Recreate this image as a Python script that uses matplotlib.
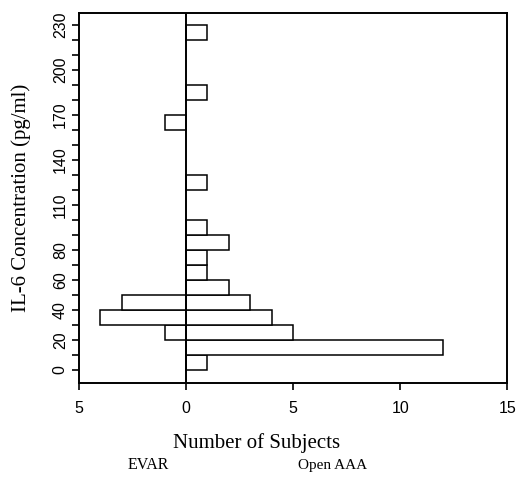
import numpy as np
import matplotlib
matplotlib.use("Agg")
import matplotlib.pyplot as plt
from matplotlib.ticker import FuncFormatter

# IL-6 bins (lower edge, pg/ml) and counts per group
bin_start = [0, 10, 20, 30, 40, 50, 60, 70, 80, 90, 120, 160, 180, 220]
open_aaa = [1, 12, 5, 4, 3, 2, 1, 1, 2, 1, 1, 0, 1, 1]
evar = [0, 0, 1, 4, 3, 0, 0, 0, 0, 0, 0, 1, 0, 0]
bin_width = 10

ytick_pos = list(range(0, 240, 10))
ytick_labels = ["0", "20", "40", "60", "80", "110", "140", "170", "200", "230"]
ytick_labeled = [0, 20, 40, 60, 80, 110, 140, 170, 200, 230]
xtick_pos = [-5, 0, 5, 10, 15]

serif = "Liberation Serif"
sans = "Liberation Sans"

fig = plt.figure(figsize=(5.16, 4.79), dpi=100)
ax = fig.add_axes([0.153, 0.2004, 0.830, 0.7725])

# right side: Open AAA, left side: EVAR (negative)
ax.barh(bin_start, open_aaa, height=bin_width, align="edge",
        color="white", edgecolor="black", linewidth=1.1)
ax.barh(bin_start, [-v for v in evar], height=bin_width, align="edge",
        color="white", edgecolor="black", linewidth=1.1)
ax.axvline(0, color="black", linewidth=1.4)

ax.set_xlim(-5, 15)
ax.set_ylim(-8.7, 238)

ax.set_xticks(xtick_pos)
ax.xaxis.set_major_formatter(FuncFormatter(lambda v, p: "%d" % abs(v)))
ax.set_yticks(ytick_pos, minor=True)
ax.set_yticks(ytick_labeled)
ax.set_yticklabels(ytick_labels, rotation=90, va="center")

ax.tick_params(axis="both", which="both", direction="out", length=5,
               width=1.2, labelsize=11.5)
ax.tick_params(axis="x", pad=8)
ax.tick_params(axis="y", pad=3)
for lab in ax.get_xticklabels() + ax.get_yticklabels():
    lab.set_family(sans)

for s in ax.spines.values():
    s.set_linewidth(1.4)

ax.set_ylabel("IL-6 Concentration (pg/ml)", fontsize=15, family=serif,
              labelpad=16)
fig.text(0.498, 1 - 443 / 479, "Number of Subjects", fontsize=15,
         family=serif, ha="center", va="center")
fig.text(0.287, 1 - 465 / 479, "EVAR", fontsize=11.5, family=serif,
         ha="center", va="center")
fig.text(0.645, 1 - 465 / 479, "Open AAA", fontsize=11, family=serif,
         ha="center", va="center")

fig.savefig("out.png", dpi=100)
